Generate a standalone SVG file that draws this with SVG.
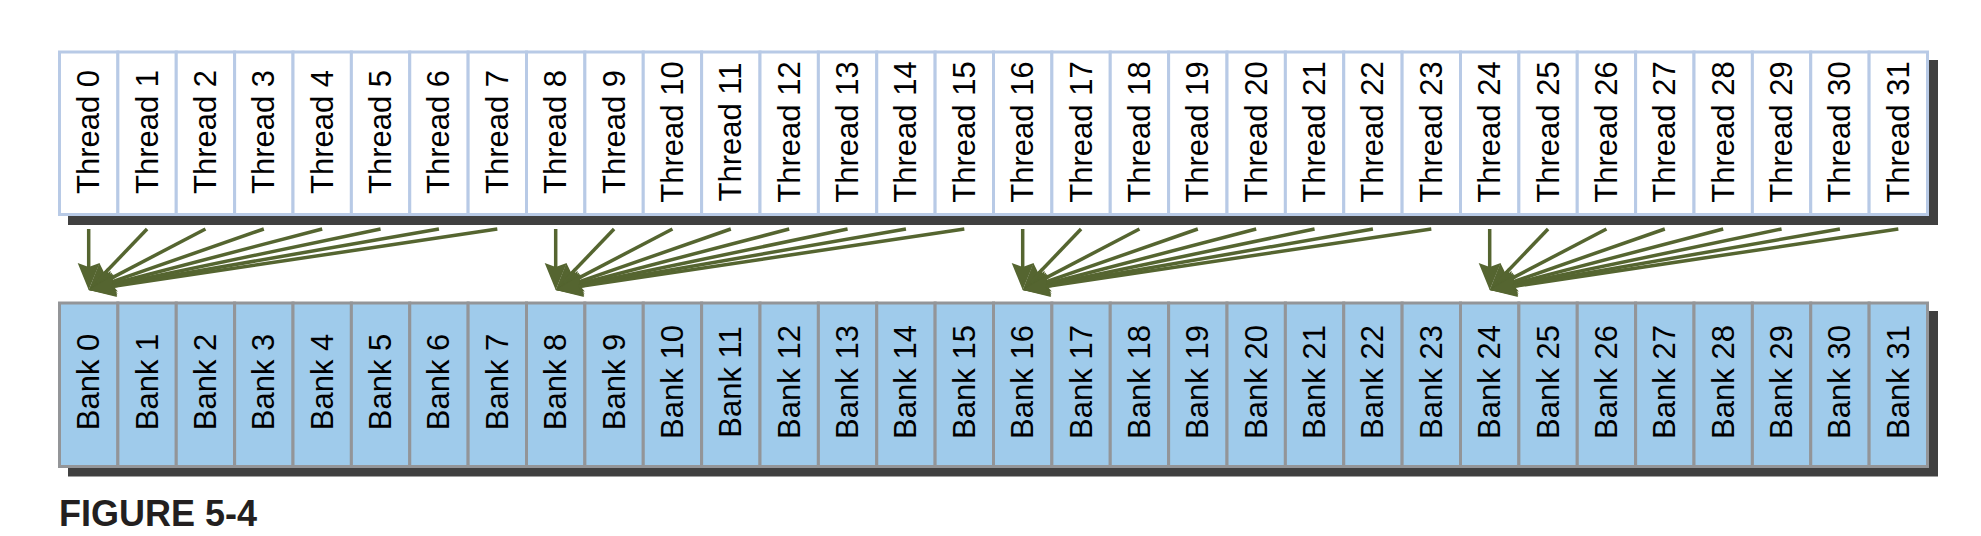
<svg xmlns="http://www.w3.org/2000/svg" width="1981" height="536" viewBox="0 0 1981 536">
<style>
.th rect{fill:#ffffff;stroke:#B8CAE6;stroke-width:3}
.bk rect{fill:#9FCBEB;stroke:#939598;stroke-width:3}
text{font-family:"Liberation Sans",Arial,sans-serif;font-size:31px;fill:#000000;text-anchor:middle}
.shadow{fill:#404040}
.conn path{fill:none;stroke:#556530;stroke-width:3.5;marker-end:url(#ah)}
.cap{font-family:"Liberation Sans",Arial,sans-serif;font-size:36px;font-weight:bold;fill:#231F20;text-anchor:start}
</style>
<defs>
<marker id="ah" markerUnits="userSpaceOnUse" markerWidth="40" markerHeight="26" refX="27" refY="12" orient="auto" overflow="visible">
<path d="M37,12 L10,1 L14,12 L10,23 Z" fill="#556530"/>
</marker>
</defs>
<rect class="shadow" x="68" y="60" width="1870" height="165"/>
<rect class="shadow" x="68" y="311" width="1870" height="165.5"/>
<g id="threads">
<g id="thread-0" class="th"><rect x="59.5" y="52" width="58.375" height="162.5"/><text transform="translate(99.19,132) rotate(-90)">Thread 0</text></g>
<g id="thread-1" class="th"><rect x="117.875" y="52" width="58.375" height="162.5"/><text transform="translate(157.56,132) rotate(-90)">Thread 1</text></g>
<g id="thread-2" class="th"><rect x="176.25" y="52" width="58.375" height="162.5"/><text transform="translate(215.94,132) rotate(-90)">Thread 2</text></g>
<g id="thread-3" class="th"><rect x="234.625" y="52" width="58.375" height="162.5"/><text transform="translate(274.31,132) rotate(-90)">Thread 3</text></g>
<g id="thread-4" class="th"><rect x="293" y="52" width="58.375" height="162.5"/><text transform="translate(332.69,132) rotate(-90)">Thread 4</text></g>
<g id="thread-5" class="th"><rect x="351.375" y="52" width="58.375" height="162.5"/><text transform="translate(391.06,132) rotate(-90)">Thread 5</text></g>
<g id="thread-6" class="th"><rect x="409.75" y="52" width="58.375" height="162.5"/><text transform="translate(449.44,132) rotate(-90)">Thread 6</text></g>
<g id="thread-7" class="th"><rect x="468.125" y="52" width="58.375" height="162.5"/><text transform="translate(507.81,132) rotate(-90)">Thread 7</text></g>
<g id="thread-8" class="th"><rect x="526.5" y="52" width="58.375" height="162.5"/><text transform="translate(566.19,132) rotate(-90)">Thread 8</text></g>
<g id="thread-9" class="th"><rect x="584.875" y="52" width="58.375" height="162.5"/><text transform="translate(624.56,132) rotate(-90)">Thread 9</text></g>
<g id="thread-10" class="th"><rect x="643.25" y="52" width="58.375" height="162.5"/><text transform="translate(682.94,132) rotate(-90)">Thread 10</text></g>
<g id="thread-11" class="th"><rect x="701.625" y="52" width="58.375" height="162.5"/><text transform="translate(741.31,132) rotate(-90)">Thread 11</text></g>
<g id="thread-12" class="th"><rect x="760" y="52" width="58.375" height="162.5"/><text transform="translate(799.69,132) rotate(-90)">Thread 12</text></g>
<g id="thread-13" class="th"><rect x="818.375" y="52" width="58.375" height="162.5"/><text transform="translate(858.06,132) rotate(-90)">Thread 13</text></g>
<g id="thread-14" class="th"><rect x="876.75" y="52" width="58.375" height="162.5"/><text transform="translate(916.44,132) rotate(-90)">Thread 14</text></g>
<g id="thread-15" class="th"><rect x="935.125" y="52" width="58.375" height="162.5"/><text transform="translate(974.81,132) rotate(-90)">Thread 15</text></g>
<g id="thread-16" class="th"><rect x="993.5" y="52" width="58.375" height="162.5"/><text transform="translate(1033.19,132) rotate(-90)">Thread 16</text></g>
<g id="thread-17" class="th"><rect x="1051.875" y="52" width="58.375" height="162.5"/><text transform="translate(1091.56,132) rotate(-90)">Thread 17</text></g>
<g id="thread-18" class="th"><rect x="1110.25" y="52" width="58.375" height="162.5"/><text transform="translate(1149.94,132) rotate(-90)">Thread 18</text></g>
<g id="thread-19" class="th"><rect x="1168.625" y="52" width="58.375" height="162.5"/><text transform="translate(1208.31,132) rotate(-90)">Thread 19</text></g>
<g id="thread-20" class="th"><rect x="1227" y="52" width="58.375" height="162.5"/><text transform="translate(1266.69,132) rotate(-90)">Thread 20</text></g>
<g id="thread-21" class="th"><rect x="1285.375" y="52" width="58.375" height="162.5"/><text transform="translate(1325.06,132) rotate(-90)">Thread 21</text></g>
<g id="thread-22" class="th"><rect x="1343.75" y="52" width="58.375" height="162.5"/><text transform="translate(1383.44,132) rotate(-90)">Thread 22</text></g>
<g id="thread-23" class="th"><rect x="1402.125" y="52" width="58.375" height="162.5"/><text transform="translate(1441.81,132) rotate(-90)">Thread 23</text></g>
<g id="thread-24" class="th"><rect x="1460.5" y="52" width="58.375" height="162.5"/><text transform="translate(1500.19,132) rotate(-90)">Thread 24</text></g>
<g id="thread-25" class="th"><rect x="1518.875" y="52" width="58.375" height="162.5"/><text transform="translate(1558.56,132) rotate(-90)">Thread 25</text></g>
<g id="thread-26" class="th"><rect x="1577.25" y="52" width="58.375" height="162.5"/><text transform="translate(1616.94,132) rotate(-90)">Thread 26</text></g>
<g id="thread-27" class="th"><rect x="1635.625" y="52" width="58.375" height="162.5"/><text transform="translate(1675.31,132) rotate(-90)">Thread 27</text></g>
<g id="thread-28" class="th"><rect x="1694" y="52" width="58.375" height="162.5"/><text transform="translate(1733.69,132) rotate(-90)">Thread 28</text></g>
<g id="thread-29" class="th"><rect x="1752.375" y="52" width="58.375" height="162.5"/><text transform="translate(1792.06,132) rotate(-90)">Thread 29</text></g>
<g id="thread-30" class="th"><rect x="1810.75" y="52" width="58.375" height="162.5"/><text transform="translate(1850.44,132) rotate(-90)">Thread 30</text></g>
<g id="thread-31" class="th"><rect x="1869.125" y="52" width="58.375" height="162.5"/><text transform="translate(1908.81,132) rotate(-90)">Thread 31</text></g>
</g>
<g id="banks">
<g id="bank-0" class="bk"><rect x="59.5" y="303" width="58.375" height="163.5"/><text transform="translate(99.19,382) rotate(-90)">Bank 0</text></g>
<g id="bank-1" class="bk"><rect x="117.875" y="303" width="58.375" height="163.5"/><text transform="translate(157.56,382) rotate(-90)">Bank 1</text></g>
<g id="bank-2" class="bk"><rect x="176.25" y="303" width="58.375" height="163.5"/><text transform="translate(215.94,382) rotate(-90)">Bank 2</text></g>
<g id="bank-3" class="bk"><rect x="234.625" y="303" width="58.375" height="163.5"/><text transform="translate(274.31,382) rotate(-90)">Bank 3</text></g>
<g id="bank-4" class="bk"><rect x="293" y="303" width="58.375" height="163.5"/><text transform="translate(332.69,382) rotate(-90)">Bank 4</text></g>
<g id="bank-5" class="bk"><rect x="351.375" y="303" width="58.375" height="163.5"/><text transform="translate(391.06,382) rotate(-90)">Bank 5</text></g>
<g id="bank-6" class="bk"><rect x="409.75" y="303" width="58.375" height="163.5"/><text transform="translate(449.44,382) rotate(-90)">Bank 6</text></g>
<g id="bank-7" class="bk"><rect x="468.125" y="303" width="58.375" height="163.5"/><text transform="translate(507.81,382) rotate(-90)">Bank 7</text></g>
<g id="bank-8" class="bk"><rect x="526.5" y="303" width="58.375" height="163.5"/><text transform="translate(566.19,382) rotate(-90)">Bank 8</text></g>
<g id="bank-9" class="bk"><rect x="584.875" y="303" width="58.375" height="163.5"/><text transform="translate(624.56,382) rotate(-90)">Bank 9</text></g>
<g id="bank-10" class="bk"><rect x="643.25" y="303" width="58.375" height="163.5"/><text transform="translate(682.94,382) rotate(-90)">Bank 10</text></g>
<g id="bank-11" class="bk"><rect x="701.625" y="303" width="58.375" height="163.5"/><text transform="translate(741.31,382) rotate(-90)">Bank 11</text></g>
<g id="bank-12" class="bk"><rect x="760" y="303" width="58.375" height="163.5"/><text transform="translate(799.69,382) rotate(-90)">Bank 12</text></g>
<g id="bank-13" class="bk"><rect x="818.375" y="303" width="58.375" height="163.5"/><text transform="translate(858.06,382) rotate(-90)">Bank 13</text></g>
<g id="bank-14" class="bk"><rect x="876.75" y="303" width="58.375" height="163.5"/><text transform="translate(916.44,382) rotate(-90)">Bank 14</text></g>
<g id="bank-15" class="bk"><rect x="935.125" y="303" width="58.375" height="163.5"/><text transform="translate(974.81,382) rotate(-90)">Bank 15</text></g>
<g id="bank-16" class="bk"><rect x="993.5" y="303" width="58.375" height="163.5"/><text transform="translate(1033.19,382) rotate(-90)">Bank 16</text></g>
<g id="bank-17" class="bk"><rect x="1051.875" y="303" width="58.375" height="163.5"/><text transform="translate(1091.56,382) rotate(-90)">Bank 17</text></g>
<g id="bank-18" class="bk"><rect x="1110.25" y="303" width="58.375" height="163.5"/><text transform="translate(1149.94,382) rotate(-90)">Bank 18</text></g>
<g id="bank-19" class="bk"><rect x="1168.625" y="303" width="58.375" height="163.5"/><text transform="translate(1208.31,382) rotate(-90)">Bank 19</text></g>
<g id="bank-20" class="bk"><rect x="1227" y="303" width="58.375" height="163.5"/><text transform="translate(1266.69,382) rotate(-90)">Bank 20</text></g>
<g id="bank-21" class="bk"><rect x="1285.375" y="303" width="58.375" height="163.5"/><text transform="translate(1325.06,382) rotate(-90)">Bank 21</text></g>
<g id="bank-22" class="bk"><rect x="1343.75" y="303" width="58.375" height="163.5"/><text transform="translate(1383.44,382) rotate(-90)">Bank 22</text></g>
<g id="bank-23" class="bk"><rect x="1402.125" y="303" width="58.375" height="163.5"/><text transform="translate(1441.81,382) rotate(-90)">Bank 23</text></g>
<g id="bank-24" class="bk"><rect x="1460.5" y="303" width="58.375" height="163.5"/><text transform="translate(1500.19,382) rotate(-90)">Bank 24</text></g>
<g id="bank-25" class="bk"><rect x="1518.875" y="303" width="58.375" height="163.5"/><text transform="translate(1558.56,382) rotate(-90)">Bank 25</text></g>
<g id="bank-26" class="bk"><rect x="1577.25" y="303" width="58.375" height="163.5"/><text transform="translate(1616.94,382) rotate(-90)">Bank 26</text></g>
<g id="bank-27" class="bk"><rect x="1635.625" y="303" width="58.375" height="163.5"/><text transform="translate(1675.31,382) rotate(-90)">Bank 27</text></g>
<g id="bank-28" class="bk"><rect x="1694" y="303" width="58.375" height="163.5"/><text transform="translate(1733.69,382) rotate(-90)">Bank 28</text></g>
<g id="bank-29" class="bk"><rect x="1752.375" y="303" width="58.375" height="163.5"/><text transform="translate(1792.06,382) rotate(-90)">Bank 29</text></g>
<g id="bank-30" class="bk"><rect x="1810.75" y="303" width="58.375" height="163.5"/><text transform="translate(1850.44,382) rotate(-90)">Bank 30</text></g>
<g id="bank-31" class="bk"><rect x="1869.125" y="303" width="58.375" height="163.5"/><text transform="translate(1908.81,382) rotate(-90)">Bank 31</text></g>
</g>
<g id="connectors" class="conn">
<g id="conn-group-0">
<path d="M88.69,229 L88.69,280"/>
<path d="M147.06,229 L95.60,282.78"/>
<path d="M205.44,229 L97.55,285.37"/>
<path d="M263.81,229 L98.13,286.71"/>
<path d="M322.19,229 L98.36,287.47"/>
<path d="M380.56,229 L98.48,287.95"/>
<path d="M438.94,229 L98.54,288.28"/>
<path d="M497.31,229 L98.58,288.52"/>
</g>
<g id="conn-group-1" transform="translate(467,0)">
<path d="M88.69,229 L88.69,280"/>
<path d="M147.06,229 L95.60,282.78"/>
<path d="M205.44,229 L97.55,285.37"/>
<path d="M263.81,229 L98.13,286.71"/>
<path d="M322.19,229 L98.36,287.47"/>
<path d="M380.56,229 L98.48,287.95"/>
<path d="M438.94,229 L98.54,288.28"/>
<path d="M497.31,229 L98.58,288.52"/>
</g>
<g id="conn-group-2" transform="translate(934,0)">
<path d="M88.69,229 L88.69,280"/>
<path d="M147.06,229 L95.60,282.78"/>
<path d="M205.44,229 L97.55,285.37"/>
<path d="M263.81,229 L98.13,286.71"/>
<path d="M322.19,229 L98.36,287.47"/>
<path d="M380.56,229 L98.48,287.95"/>
<path d="M438.94,229 L98.54,288.28"/>
<path d="M497.31,229 L98.58,288.52"/>
</g>
<g id="conn-group-3" transform="translate(1401,0)">
<path d="M88.69,229 L88.69,280"/>
<path d="M147.06,229 L95.60,282.78"/>
<path d="M205.44,229 L97.55,285.37"/>
<path d="M263.81,229 L98.13,286.71"/>
<path d="M322.19,229 L98.36,287.47"/>
<path d="M380.56,229 L98.48,287.95"/>
<path d="M438.94,229 L98.54,288.28"/>
<path d="M497.31,229 L98.58,288.52"/>
</g>
</g>
<text class="cap" x="59" y="526">FIGURE 5-4</text>
</svg>
